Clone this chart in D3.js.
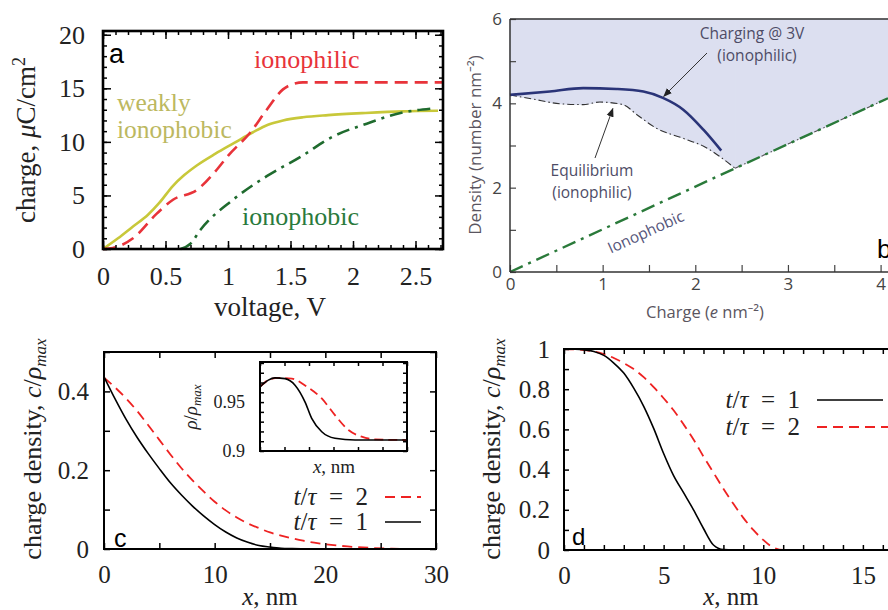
<!DOCTYPE html>
<html><head><meta charset="utf-8">
<script src="https://cdn.jsdelivr.net/npm/d3@7/dist/d3.min.js"></script>
<style>
body{margin:0;background:#fff;}
svg{display:block;}
.serif{font-family:"Liberation Serif","DejaVu Serif",serif;}
.sans{font-family:"Open Sans","Noto Sans",sans-serif;}
</style></head><body>
<svg id="c" width="888" height="610"></svg>
<script>
// ---------- Panel a data ----------
const aIonophilicV = [0, 0.08, 0.24, 0.43, 0.56, 0.75, 0.91, 1.0, 1.18, 1.31, 1.44, 1.52, 1.6, 2.72];
const aIonophilicQ = [0, 0.1, 1.0, 3.3, 4.6, 5.5, 7.4, 8.7, 10.9, 13.0, 14.9, 15.4, 15.55, 15.55];
const aWeakV = [0, 0.12, 0.24, 0.36, 0.45, 0.56, 0.65, 0.75, 0.9, 1.05, 1.2, 1.32, 1.44, 1.6, 1.8, 2.1, 2.4, 2.68];
const aWeakQ = [0, 1.0, 2.1, 3.2, 4.3, 5.9, 6.9, 7.8, 8.9, 9.9, 10.9, 11.6, 12.0, 12.3, 12.5, 12.7, 12.85, 12.9];
const aPhobicV = [0.62, 0.7, 0.78, 1.04, 1.31, 1.58, 1.84, 2.11, 2.38, 2.62];
const aPhobicQ = [0, 0.5, 1.8, 4.6, 6.8, 8.6, 10.5, 11.7, 12.7, 13.1];
const aXTicks = [0, 0.5, 1, 1.5, 2, 2.5];
const aYTicks = [0, 5, 10, 15, 20];

// ---------- Panel b data ----------
const bChargingX = [0, 0.43, 0.79, 1.15, 1.44, 1.65, 1.87, 2.09, 2.28];
const bChargingY = [4.2, 4.28, 4.36, 4.34, 4.28, 4.13, 3.85, 3.37, 2.88];
const bEquilX = [0, 0.25, 0.54, 0.79, 0.97, 1.22, 1.37, 1.58, 1.87, 2.09, 2.43];
const bEquilY = [4.2, 4.10, 3.99, 3.97, 4.03, 3.97, 3.73, 3.41, 3.17, 2.98, 2.46];
const bPhobicX = [0, 2.43, 4.08];
const bPhobicY = [0, 2.46, 4.12];
const bXTicks = [0, 1, 2, 3, 4];
const bYTicks = [0, 2, 4, 6];

// ---------- Panel c data ----------
const cX1 = [0, 1, 2, 3, 4, 5, 6, 7, 8, 9, 10, 11, 12, 13, 14, 15, 16, 17, 18, 20, 30];
const cT1 = [0.437, 0.381, 0.329, 0.283, 0.242, 0.204, 0.168, 0.137, 0.109, 0.084, 0.062, 0.043, 0.028, 0.017, 0.009, 0.005, 0.002, 0.001, 0.0005, 0, 0];
const cX2 = [0, 1, 2, 3, 4, 5, 6, 7, 8, 9, 10, 11, 12, 13, 14, 15, 16, 17, 18, 19, 20, 22, 24, 26, 28, 30];
const cT2 = [0.435, 0.41, 0.382, 0.35, 0.314, 0.277, 0.24, 0.205, 0.174, 0.146, 0.12, 0.098, 0.08, 0.065, 0.053, 0.042, 0.034, 0.027, 0.021, 0.016, 0.012, 0.0065, 0.003, 0.001, 0.0002, 0];
const cXTicks = [0, 10, 20, 30];
const cYTicks = [0, 0.2, 0.4];
// inset
const iX1 = [0, 0.34, 0.61, 1.02, 1.43, 1.84, 2.11, 2.52, 3.06, 3.88, 6];
const iT1 = [0.9656, 0.9725, 0.9748, 0.974, 0.9673, 0.950, 0.9333, 0.9197, 0.913, 0.9112, 0.9112];
const iX2 = [0, 0.34, 0.75, 1.3, 1.84, 2.52, 3.06, 3.61, 4.15, 4.69, 6];
const iT2 = [0.9656, 0.9725, 0.9748, 0.974, 0.967, 0.9537, 0.9367, 0.9214, 0.9146, 0.9119, 0.9112];
const iYTicks = [0.9, 0.95];

// ---------- Panel d data ----------
const dX1 = [0, 0.5, 1, 1.5, 2, 2.5, 3, 3.5, 4, 4.5, 5, 5.5, 6, 6.5, 7, 7.5, 8, 8.5, 17];
const dT1 = [1.0, 0.999, 0.996, 0.988, 0.968, 0.93, 0.88, 0.805, 0.715, 0.605, 0.48, 0.37, 0.285, 0.2, 0.107, 0.025, 0.002, 0, 0];
const dX2 = [0, 1, 2, 2.5, 3, 3.5, 4, 4.5, 5, 5.5, 6, 6.5, 7, 7.5, 8, 8.5, 9, 9.5, 10, 10.5, 11, 17];
const dT2 = [1.0, 0.995, 0.975, 0.955, 0.93, 0.90, 0.86, 0.81, 0.755, 0.695, 0.625, 0.55, 0.465, 0.385, 0.305, 0.23, 0.16, 0.1, 0.05, 0.012, 0, 0];
const dXTicks = [0, 5, 10, 15];
const dYTicks = [0, 0.2, 0.4, 0.6, 0.8, 1];

const svg = d3.select("#c");
const zip = (xs, ys) => xs.map((x, i) => [x, ys[i]]);
const rng = (a, b, s) => d3.range(a, b + s * 0.5, s).map(v => +v.toFixed(6));

function inTicks(g, axisFn, scale, vals, size, transform, color, width) {
  const ax = axisFn(scale).tickValues(vals).tickSize(-size).tickFormat("");
  const gg = g.append("g").attr("transform", transform).call(ax);
  gg.select(".domain").remove();
  gg.selectAll("line").attr("stroke", color || "#000").attr("stroke-width", width || 1.5);
  return gg;
}
function labels(g, axisFn, scale, vals, pad, transform, fmt, cls, size, color) {
  const ax = axisFn(scale).tickValues(vals).tickSize(0).tickPadding(pad).tickFormat(fmt || (d => d));
  const gg = g.append("g").attr("transform", transform).call(ax);
  gg.select(".domain").remove();
  gg.selectAll("text").attr("class", cls).attr("font-family", null).attr("font-size", size).attr("fill", color || "#222");
  return gg;
}
function tLabel(g, x, y, n, anchor, size) {
  const t = g.append("text").attr("class", "serif").attr("x", x).attr("y", y).attr("text-anchor", anchor).attr("font-size", size).attr("fill", "#222");
  t.append("tspan").attr("font-style", "italic").text("t");
  t.append("tspan").text("/");
  t.append("tspan").attr("font-style", "italic").text("τ");
  t.append("tspan").text("\u2002=\u2002" + n);
  return t;
}
function rhoTitle(g, x, y, size, sub) {
  const yt = g.append("text").attr("class", "serif").attr("transform", `translate(${x},${y}) rotate(-90)`).attr("text-anchor", "middle").attr("font-size", size).attr("fill", "#222");
  yt.append("tspan").text("charge density, ");
  yt.append("tspan").attr("font-style", "italic").text("c");
  yt.append("tspan").text("/");
  yt.append("tspan").attr("font-style", "italic").text("ρ");
  yt.append("tspan").attr("font-style", "italic").attr("font-size", sub).attr("dy", 5).text("max");
}

// ================= Panel a =================
{
  const g = svg.append("g");
  const x = d3.scaleLinear([0, 2.72], [103, 443]);
  const y = d3.scaleLinear([0, 20.35], [249, 31]);
  const line = d3.line().x(d => x(d[0])).y(d => y(d[1])).curve(d3.curveMonotoneX);
  g.append("path").datum(zip(aWeakV, aWeakQ)).attr("d", line).attr("fill", "none").attr("stroke", "#c8c83a").attr("stroke-width", 2.6);
  g.append("path").datum(zip(aIonophilicV, aIonophilicQ)).attr("d", line).attr("fill", "none").attr("stroke", "#e8333a").attr("stroke-width", 2.6).attr("stroke-dasharray", "13,7");
  g.append("path").datum(zip(aPhobicV, aPhobicQ)).attr("d", line).attr("fill", "none").attr("stroke", "#1f6b2e").attr("stroke-width", 2.6).attr("stroke-dasharray", "13,6,3,6");
  inTicks(g, d3.axisBottom, x, rng(0, 2.7, 0.1), 4, `translate(0,${y(0)})`);
  inTicks(g, d3.axisBottom, x, aXTicks, 8, `translate(0,${y(0)})`);
  inTicks(g, d3.axisTop, x, rng(0, 2.7, 0.1), 4, `translate(0,${y(20.35)})`);
  inTicks(g, d3.axisTop, x, aXTicks, 8, `translate(0,${y(20.35)})`);
  inTicks(g, d3.axisLeft, y, rng(0, 20, 1), 4, `translate(${x(0)},0)`);
  inTicks(g, d3.axisLeft, y, aYTicks, 8, `translate(${x(0)},0)`);
  inTicks(g, d3.axisRight, y, rng(0, 20, 1), 4, `translate(${x(2.72)},0)`);
  inTicks(g, d3.axisRight, y, aYTicks, 8, `translate(${x(2.72)},0)`);
  g.append("rect").attr("x", x(0)).attr("y", y(20.35)).attr("width", x(2.72) - x(0)).attr("height", y(0) - y(20.35))
    .attr("fill", "none").attr("stroke", "#000").attr("stroke-width", 2.6);
  labels(g, d3.axisBottom, x, aXTicks, 18, `translate(0,${y(0)})`, d => d, "serif", 26);
  labels(g, d3.axisLeft, y, aYTicks, 18, `translate(${x(0)},0)`, d => d, "serif", 26);
  g.append("text").attr("class", "serif").attr("x", 270).attr("y", 316).attr("text-anchor", "middle").attr("font-size", 27).attr("fill", "#222").text("voltage, V");
  const yt = g.append("text").attr("class", "serif").attr("transform", "translate(35,140) rotate(-90)").attr("text-anchor", "middle").attr("font-size", 27).attr("fill", "#222");
  yt.append("tspan").text("charge, ");
  yt.append("tspan").attr("font-style", "italic").text("μ");
  yt.append("tspan").text("C/cm");
  yt.append("tspan").attr("font-size", 18).attr("dy", -10).text("2");
  g.append("text").attr("x", 109).attr("y", 63).attr("font-size", 27).attr("fill", "#000").style("font-family", "'Liberation Sans',Arial,sans-serif").text("a");
  g.append("text").attr("class", "serif").attr("x", 254).attr("y", 68).attr("font-size", 26).attr("fill", "#e8333a").text("ionophilic");
  g.append("text").attr("class", "serif").attr("x", 117).attr("y", 111).attr("font-size", 25.5).attr("fill", "#bcb860").text("weakly");
  g.append("text").attr("class", "serif").attr("x", 117).attr("y", 138).attr("font-size", 25.5).attr("fill", "#bcb860").text("ionophobic");
  g.append("text").attr("class", "serif").attr("x", 242).attr("y", 225).attr("font-size", 26).attr("fill", "#2a7a3c").text("ionophobic");
}

// ================= Panel b =================
{
  const g = svg.append("g");
  const x = d3.scaleLinear([0, 4.08], [510, 888]);
  const y = d3.scaleLinear([0, 6], [272, 19]);
  const line = d3.line().x(d => x(d[0])).y(d => y(d[1])).curve(d3.curveMonotoneX);
  const lin = d3.line().x(d => x(d[0])).y(d => y(d[1]));
  const areaCurve = d3.area().x(d => x(d[0])).y0(d => y(d[1])).y1(y(6)).curve(d3.curveMonotoneX);
  const areaLin = d3.area().x(d => x(d[0])).y0(d => y(d[1])).y1(y(6));
  g.append("path").datum(zip(bEquilX, bEquilY)).attr("d", areaCurve).attr("fill", "#dcdff0").attr("stroke", "#dcdff0").attr("stroke-width", 1);
  g.append("path").datum(zip(bPhobicX, bPhobicY).slice(1)).attr("d", areaLin).attr("fill", "#dcdff0").attr("stroke", "#dcdff0").attr("stroke-width", 1);
  g.append("path").datum(zip(bEquilX, bEquilY)).attr("d", line).attr("fill", "none").attr("stroke", "#333").attr("stroke-width", 1.1).attr("stroke-dasharray", "7,3,1.5,3");
  g.append("path").datum(zip(bPhobicX, bPhobicY).slice(1)).attr("d", lin).attr("fill", "none").attr("stroke", "#555").attr("stroke-width", 1.1).attr("stroke-dasharray", "7,3,1.5,3");
  g.append("path").datum(zip(bPhobicX, bPhobicY)).attr("d", lin).attr("fill", "none").attr("stroke", "#2a7a3a").attr("stroke-width", 2.4).attr("stroke-dasharray", "14,6,3,6");
  g.append("path").datum(zip(bChargingX, bChargingY)).attr("d", line).attr("fill", "none").attr("stroke", "#2a3478").attr("stroke-width", 2.6);
  inTicks(g, d3.axisBottom, x, rng(0, 4, 0.5), 7, `translate(0,${y(0)})`, "#444", 1.2);
  inTicks(g, d3.axisLeft, y, rng(0, 6, 1), 6, `translate(${x(0)},0)`, "#444", 1.2);
  g.append("line").attr("x1", x(0)).attr("x2", 888).attr("y1", y(0)).attr("y2", y(0)).attr("stroke", "#333").attr("stroke-width", 1.5);
  g.append("line").attr("x1", x(0)).attr("x2", 888).attr("y1", y(6)).attr("y2", y(6)).attr("stroke", "#333").attr("stroke-width", 1.5);
  g.append("line").attr("x1", x(0)).attr("x2", x(0)).attr("y1", y(0)).attr("y2", y(6)).attr("stroke", "#333").attr("stroke-width", 1.5);
  labels(g, d3.axisBottom, x, bXTicks, 6, `translate(0,${y(0)})`, d => d, "sans", 17, "#444");
  labels(g, d3.axisLeft, y, bYTicks, 8, `translate(${x(0)},0)`, d => d, "sans", 17, "#444");
  const xt = g.append("text").attr("class", "sans").attr("x", 705).attr("y", 318).attr("text-anchor", "middle").attr("font-size", 16.5).attr("fill", "#5a5560");
  xt.append("tspan").text("Charge (");
  xt.append("tspan").attr("font-style", "italic").text("e");
  xt.append("tspan").text(" nm⁻²)");
  g.append("text").attr("class", "sans").attr("transform", "translate(481,145) rotate(-90)").attr("text-anchor", "middle").attr("font-size", 17).attr("fill", "#5a5560").text("Density (number nm⁻²)");
  const defs = svg.append("defs");
  defs.append("marker").attr("id", "arr").attr("viewBox", "0 0 10 10").attr("refX", 9).attr("refY", 5)
    .attr("markerWidth", 9).attr("markerHeight", 9).attr("orient", "auto-start-reverse")
    .append("path").attr("d", "M0,1 L10,5 L0,9 Z").attr("fill", "#222");
  g.append("text").attr("class", "sans").attr("x", 752).attr("y", 39).attr("text-anchor", "middle").attr("font-size", 15.5).attr("fill", "#4e4c66").text("Charging @ 3V");
  g.append("text").attr("class", "sans").attr("x", 757).attr("y", 61).attr("text-anchor", "middle").attr("font-size", 15.5).attr("fill", "#4e4c66").text("(ionophilic)");
  g.append("line").attr("x1", 707).attr("y1", 53).attr("x2", x(1.66)).attr("y2", y(4.12) - 2).attr("stroke", "#333").attr("stroke-width", 1).attr("marker-end", "url(#arr)");
  g.append("text").attr("class", "sans").attr("x", 592).attr("y", 176).attr("text-anchor", "middle").attr("font-size", 15.5).attr("fill", "#4e4c66").text("Equilibrium");
  g.append("text").attr("class", "sans").attr("x", 592).attr("y", 198).attr("text-anchor", "middle").attr("font-size", 15.5).attr("fill", "#4e4c66").text("(ionophilic)");
  g.append("line").attr("x1", 595).attr("y1", 158).attr("x2", x(1.11)).attr("y2", y(3.97) + 4).attr("stroke", "#333").attr("stroke-width", 1).attr("marker-end", "url(#arr)");
  g.append("text").attr("class", "sans").attr("transform", "translate(648,237) rotate(-24.4)").attr("text-anchor", "middle").attr("font-size", 15.5).attr("fill", "#55557a").text("Ionophobic");
  g.append("text").attr("x", 877).attr("y", 258).attr("font-size", 26).attr("fill", "#000").style("font-family", "'Liberation Sans',Arial,sans-serif").text("b");
}

// ================= Panel c =================
{
  const g = svg.append("g");
  const x = d3.scaleLinear([0, 30], [104, 436]);
  const y = d3.scaleLinear([0, 0.5], [549, 352]);
  const line = d3.line().x(d => x(d[0])).y(d => y(d[1])).curve(d3.curveMonotoneX);
  g.append("path").datum(zip(cX2, cT2)).attr("d", line).attr("fill", "none").attr("stroke", "#ee2222").attr("stroke-width", 1.8).attr("stroke-dasharray", "10,6");
  g.append("path").datum(zip(cX1, cT1)).attr("d", line).attr("fill", "none").attr("stroke", "#000").attr("stroke-width", 1.6);
  inTicks(g, d3.axisBottom, x, rng(0, 30, 5), 6, `translate(0,${y(0)})`);
  inTicks(g, d3.axisTop, x, rng(0, 30, 5), 6, `translate(0,${y(0.5)})`);
  inTicks(g, d3.axisLeft, y, rng(0, 0.5, 0.1), 6, `translate(${x(0)},0)`);
  inTicks(g, d3.axisRight, y, rng(0, 0.5, 0.1), 6, `translate(${x(30)},0)`);
  g.append("rect").attr("x", x(0)).attr("y", y(0.5)).attr("width", x(30) - x(0)).attr("height", y(0) - y(0.5)).attr("fill", "none").attr("stroke", "#000").attr("stroke-width", 2);
  labels(g, d3.axisBottom, x, cXTicks, 16, `translate(0,${y(0)})`, d => d, "serif", 25);
  labels(g, d3.axisLeft, y, cYTicks, 15, `translate(${x(0)},0)`, d => d, "serif", 25);
  const xt = g.append("text").attr("class", "serif").attr("x", 270).attr("y", 605).attr("text-anchor", "middle").attr("font-size", 25).attr("fill", "#222");
  xt.append("tspan").attr("font-style", "italic").text("x");
  xt.append("tspan").text(", nm");
  rhoTitle(g, 41, 449, 26, 17);
  tLabel(g, 368, 505, "2", "end", 25);
  g.append("line").attr("x1", 385).attr("x2", 421).attr("y1", 497).attr("y2", 497).attr("stroke", "#ee2222").attr("stroke-width", 1.8).attr("stroke-dasharray", "10,6");
  tLabel(g, 368, 530, "1", "end", 25);
  g.append("line").attr("x1", 385).attr("x2", 421).attr("y1", 522).attr("y2", 522).attr("stroke", "#000").attr("stroke-width", 1.6);
  g.append("text").attr("x", 114).attr("y", 547).attr("font-size", 25).attr("fill", "#000").style("font-family", "'Liberation Sans',Arial,sans-serif").text("c");

  // inset
  const ix = d3.scaleLinear([0, 6], [260, 407]);
  const iy = d3.scaleLinear([0.9, 0.991], [451, 362]);
  const il = d3.line().x(d => ix(d[0])).y(d => iy(d[1])).curve(d3.curveMonotoneX);
  g.append("path").datum(zip(iX2, iT2)).attr("d", il).attr("fill", "none").attr("stroke", "#ee2222").attr("stroke-width", 1.8).attr("stroke-dasharray", "9,5");
  g.append("path").datum(zip(iX1, iT1)).attr("d", il).attr("fill", "none").attr("stroke", "#000").attr("stroke-width", 1.6);
  inTicks(g, d3.axisBottom, ix, rng(0, 6, 1), 4, `translate(0,${iy(0.9)})`);
  inTicks(g, d3.axisTop, ix, rng(0, 6, 1), 4, `translate(0,${iy(0.991)})`);
  inTicks(g, d3.axisLeft, iy, rng(0.9, 0.99, 0.01), 4, `translate(${ix(0)},0)`);
  inTicks(g, d3.axisRight, iy, rng(0.9, 0.99, 0.01), 4, `translate(${ix(6)},0)`);
  g.append("rect").attr("x", ix(0)).attr("y", iy(0.991)).attr("width", ix(6) - ix(0)).attr("height", iy(0.9) - iy(0.991)).attr("fill", "none").attr("stroke", "#000").attr("stroke-width", 2);
  labels(g, d3.axisLeft, iy, iYTicks, 15, `translate(${ix(0)},0)`, d => d, "serif", 18);
  const ixt = g.append("text").attr("class", "serif").attr("x", 334).attr("y", 473).attr("text-anchor", "middle").attr("font-size", 19).attr("fill", "#222");
  ixt.append("tspan").attr("font-style", "italic").text("x");
  ixt.append("tspan").text(", nm");
  const iyt = g.append("text").attr("class", "serif").attr("transform", "translate(197,407) rotate(-90)").attr("text-anchor", "middle").attr("font-size", 19).attr("fill", "#222");
  iyt.append("tspan").attr("font-style", "italic").text("ρ");
  iyt.append("tspan").text("/");
  iyt.append("tspan").attr("font-style", "italic").text("ρ");
  iyt.append("tspan").attr("font-style", "italic").attr("font-size", 13).attr("dy", 4).text("max");
}

// ================= Panel d =================
{
  const g = svg.append("g");
  const x = d3.scaleLinear([0, 16.26], [564, 888]);
  const y = d3.scaleLinear([0, 1], [550, 349]);
  const line = d3.line().x(d => x(d[0])).y(d => y(d[1])).curve(d3.curveMonotoneX);
  g.append("path").datum(zip(dX2, dT2)).attr("d", line).attr("fill", "none").attr("stroke", "#ee2222").attr("stroke-width", 1.8).attr("stroke-dasharray", "10,6");
  g.append("path").datum(zip(dX1, dT1)).attr("d", line).attr("fill", "none").attr("stroke", "#000").attr("stroke-width", 1.6);
  inTicks(g, d3.axisBottom, x, rng(0, 16, 1), 5, `translate(0,${y(0)})`);
  inTicks(g, d3.axisTop, x, rng(0, 16, 1), 5, `translate(0,${y(1)})`);
  inTicks(g, d3.axisLeft, y, rng(0, 1, 0.1), 5, `translate(${x(0)},0)`);
  g.append("path").attr("d", `M888,${y(1)}H${x(0)}V${y(0)}H888`).attr("fill", "none").attr("stroke", "#000").attr("stroke-width", 2);
  labels(g, d3.axisBottom, x, dXTicks, 16, `translate(0,${y(0)})`, d => d, "serif", 25);
  labels(g, d3.axisLeft, y, dYTicks, 14, `translate(${x(0)},0)`, d => d, "serif", 25);
  const xt = g.append("text").attr("class", "serif").attr("x", 731).attr("y", 605).attr("text-anchor", "middle").attr("font-size", 25).attr("fill", "#222");
  xt.append("tspan").attr("font-style", "italic").text("x");
  xt.append("tspan").text(", nm");
  rhoTitle(g, 500, 449, 26, 17);
  tLabel(g, 800, 408, "1", "end", 25);
  g.append("line").attr("x1", 817).attr("x2", 883).attr("y1", 400).attr("y2", 400).attr("stroke", "#000").attr("stroke-width", 1.6);
  tLabel(g, 800, 435, "2", "end", 25);
  g.append("line").attr("x1", 817).attr("x2", 888).attr("y1", 427).attr("y2", 427).attr("stroke", "#ee2222").attr("stroke-width", 1.8).attr("stroke-dasharray", "10,6");
  g.append("text").attr("x", 572).attr("y", 545).attr("font-size", 24).attr("fill", "#000").style("font-family", "'Liberation Sans',Arial,sans-serif").text("d");
}
</script>
</body></html>
